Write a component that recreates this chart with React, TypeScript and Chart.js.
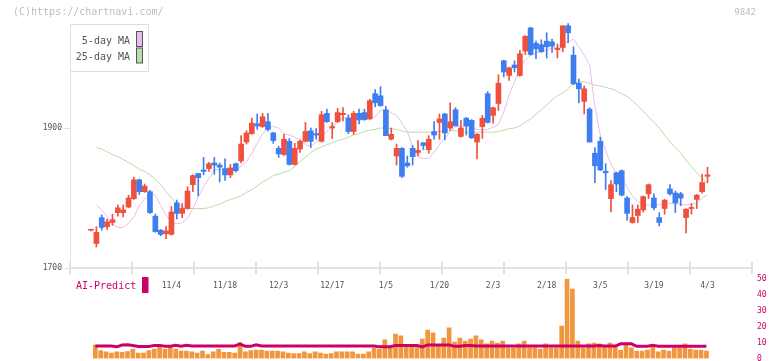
import React, { useEffect, useRef } from "react";
import { Chart, registerables } from "chart.js";

Chart.register(...registerables);

const dates = ["10/10","10/14","10/15","10/16","10/17","10/20","10/21","10/22","10/23","10/24","10/27","10/28","10/29","10/30","10/31","11/4","11/5","11/6","11/7","11/10","11/11","11/12","11/13","11/14","11/17","11/18","11/19","11/20","11/21","11/25","11/26","11/27","11/28","12/1","12/2","12/3","12/4","12/5","12/8","12/9","12/10","12/11","12/12","12/15","12/16","12/17","12/18","12/19","12/22","12/23","12/24","12/25","12/26","12/29","12/30","1/5","1/6","1/7","1/8","1/9","1/13","1/14","1/15","1/16","1/19","1/20","1/21","1/22","1/23","1/26","1/27","1/28","1/29","1/30","2/2","2/3","2/4","2/5","2/6","2/9","2/10","2/12","2/13","2/16","2/17","2/18","2/19","2/20","2/24","2/25","2/26","2/27","3/2","3/3","3/4","3/5","3/6","3/9","3/10","3/11","3/12","3/13","3/16","3/17","3/18","3/19","3/23","3/24","3/25","3/26","3/27","3/30","3/31","4/1","4/2","4/3"];

const opens = [1754,1735,1772,1759,1765,1779,1779,1787,1799,1826,1809,1809,1774,1754,1749,1748,1793,1778,1785,1819,1835,1840,1842,1850,1847,1842,1833,1849,1853,1880,1892,1906,1902,1909,1893,1871,1862,1881,1848,1870,1881,1896,1892,1881,1921,1900,1909,1919,1914,1895,1921,1922,1913,1949,1946,1926,1884,1860,1871,1850,1871,1865,1879,1869,1895,1908,1920,1900,1926,1888,1914,1911,1880,1902,1949,1918,1935,1996,1975,1990,1975,2010,2043,2021,2019,2024,2023,2012,2015,2046,2004,1964,1938,1927,1864,1881,1838,1799,1836,1839,1800,1765,1775,1783,1806,1800,1772,1785,1813,1807,1806,1772,1785,1798,1809,1831];
const highs = [1755,1759,1776,1770,1777,1790,1790,1804,1830,1827,1820,1811,1777,1755,1759,1788,1797,1792,1816,1833,1835,1858,1851,1858,1850,1856,1848,1850,1889,1896,1914,1920,1921,1921,1894,1874,1891,1885,1878,1883,1908,1900,1899,1924,1927,1908,1928,1929,1919,1924,1927,1927,1941,1955,1959,1931,1900,1877,1872,1860,1875,1882,1879,1889,1909,1920,1921,1936,1929,1911,1915,1912,1892,1918,1952,1930,1976,1997,1987,1996,2011,2032,2044,2024,2026,2036,2027,2020,2046,2049,2016,1970,1960,1929,1872,1887,1849,1825,1837,1840,1802,1790,1790,1803,1820,1806,1779,1798,1819,1810,1808,1785,1792,1805,1834,1844];
const lows = [1753,1730,1754,1755,1761,1774,1773,1786,1798,1805,1808,1778,1751,1746,1742,1747,1770,1772,1784,1809,1803,1833,1838,1834,1823,1825,1829,1837,1850,1877,1891,1898,1901,1896,1878,1858,1861,1847,1847,1865,1880,1872,1884,1880,1908,1885,1908,1910,1892,1891,1906,1911,1912,1930,1931,1889,1883,1847,1829,1844,1847,1860,1869,1864,1884,1884,1883,1897,1903,1887,1890,1885,1856,1885,1907,1907,1925,1973,1968,1980,1974,2005,2004,1999,2008,2000,2008,2000,2009,2022,1962,1936,1920,1880,1822,1839,1812,1780,1809,1803,1768,1764,1765,1780,1799,1783,1760,1777,1804,1779,1789,1750,1777,1785,1807,1822];
const closes = [1754,1751,1758,1766,1769,1786,1783,1800,1826,1809,1817,1779,1752,1748,1753,1780,1778,1785,1810,1832,1829,1838,1849,1847,1844,1833,1843,1839,1877,1893,1907,1903,1916,1898,1882,1863,1884,1848,1871,1881,1895,1881,1890,1919,1909,1902,1922,1921,1895,1921,1912,1912,1939,1936,1932,1889,1891,1871,1831,1846,1859,1868,1875,1884,1890,1913,1893,1909,1903,1900,1903,1886,1891,1914,1908,1929,1964,1980,1986,1986,2006,2031,2005,2013,2009,2016,2017,2014,2046,2036,1963,1956,1956,1880,1846,1840,1836,1819,1820,1804,1778,1772,1784,1802,1819,1786,1765,1797,1806,1793,1800,1784,1786,1804,1822,1833];

const ma5 = [null,
  1790,1783,1773,1763,1758,1758,1764,1773,1789,1798,
  1807,1804,1789,1776,1765,1763,1765,1771,1785,1802,
  1816,1828,1840,1841,1841,1841,1841,1845,1852,1864,
  1878,1892,1900,1902,1900,1892,1890,1887,1883,1876,
  1874,1880,1888,1895,1902,1909,1914,1916,1912,1911,
  1912,1914,1916,1925,1926,1922,1918,1907,1895,1873,
  1859,1856,1857,1865,1876,1885,1895,1902,1902,1903,
  1902,1898,1897,1898,1901,1905,1923,1947,1966,1985,
  1997,2004,2007,2009,2011,2014,2015,2020,2023,2027,
  2016,2004,1990,1930,1890,1868,1848,1835,1828,1815,
  1803,1795,1790,1790,1789,1791,1792,1792,1792,1791,
  1790,1791,1793,1800,1805];

const ma25 = [null,
  1872,1870,1866,1862,1859,1855,1851,1846,1841,1838,
  1833,1827,1819,1809,1800,1792,1787,1785,1785,1785,
  1785,1786,1789,1791,1795,1798,1800,1803,1808,1812,
  1817,1823,1827,1832,1834,1837,1839,1845,1852,1858,
  1865,1870,1873,1876,1879,1882,1884,1887,1890,1892,
  1895,1897,1898,1900,1900,1899,1898,1896,1894,1894,
  1894,1894,1894,1894,1895,1896,1896,1896,1895,1894,
  1894,1894,1894,1894,1894,1895,1897,1899,1900,1903,
  1908,1913,1920,1926,1933,1940,1946,1950,1956,1964,
  1966,1966,1964,1961,1960,1958,1956,1953,1949,1945,
  1939,1932,1924,1916,1908,1900,1890,1880,1872,1864,
  1854,1845,1836,1828,1820];

const volume = [null,
  8.4,4.9,4.1,3.4,4.1,3.9,4.3,5.9,3.4,3.4,
  4.9,5.9,7.0,5.9,7.0,5.9,4.7,4.7,4.1,3.4,
  4.7,2.4,4.1,5.7,3.9,3.9,3.4,9.9,4.1,4.9,
  5.3,5.3,4.7,4.7,4.7,4.1,3.4,3.0,3.0,4.1,
  3.0,4.1,3.4,2.8,3.0,4.1,4.1,4.1,4.1,2.8,
  2.8,4.1,6.3,5.9,11.6,7.0,15.3,14.1,8.4,8.0,
  8.0,12.2,17.8,16.1,8.4,12.8,19.1,10.3,12.8,10.9,
  12.2,14.1,11.6,9.1,10.9,9.7,10.9,6.5,6.6,9.1,
  10.9,6.6,6.6,5.9,9.1,6.6,6.6,20.3,49.7,43.4,
  10.9,6.6,9.1,9.7,9.1,7.8,9.7,7.8,5.3,8.8,
  6.6,4.7,4.7,5.3,7.8,4.1,5.3,4.7,6.6,6.6,
  9.1,5.9,5.3,5.3,4.7];

const aiPredict = [null,
  7.8,7.8,7.8,7.8,7.3,8.4,8.6,8.1,7.5,7.5,
  7.5,8.2,8.2,7.6,7.6,8.2,7.6,8.2,7.8,7.8,
  7.8,7.8,7.8,7.8,7.8,7.8,7.8,9.0,7.6,7.6,
  8.5,7.8,7.8,7.8,7.8,7.8,7.8,7.8,7.8,7.8,
  7.8,7.8,7.8,7.8,7.8,7.8,7.8,7.8,7.8,7.8,
  7.8,7.8,7.8,7.3,7.3,7.3,8.2,8.2,8.2,8.2,
  8.2,7.3,8.5,8.5,8.5,8.5,8.5,7.6,7.6,8.1,
  8.1,7.8,7.8,7.8,7.8,7.8,7.8,7.8,7.8,7.8,
  7.8,7.8,7.8,7.8,7.8,7.8,7.8,7.8,7.8,7.8,
  7.8,7.8,7.8,7.8,8.1,7.8,7.8,7.8,9.2,9.2,
  9.2,7.6,7.6,7.6,8.3,7.7,7.7,7.7,7.7,7.7,
  7.7,7.7,7.7,7.7,7.7];

const priceTicks = [1700, 1900];
const dateTickIndexes = [15, 25, 35, 45, 55, 65, 75, 85, 95, 105, 115];
const gridSlotCount = 11;
const volumeTicks = [0, 10, 20, 30, 40, 50];

const UP = "#f0503e";
const DOWN = "#3f7ef0";
const PINK = "#ebbbee";
const GREEN = "#b8dcaa";
const ORANGE = "#f0963c";
const MAGENTA = "#cc0066";
const GRID = "#e2e2e2";
const MONO = '"DejaVu Sans Mono", monospace';

const W = 772;
const H = 361;

function mainConfig(): any {
  const idx = dates.map((_, i) => i);
  const colors = idx.map((i) => (closes[i] >= opens[i] ? UP : DOWN));
  const decor = {
    id: "decor",
    afterDraw(chart: any) {
      const ctx = chart.ctx;
      const area = chart.chartArea;
      ctx.save();
      // separator tick marks along the bottom axis
      ctx.strokeStyle = GRID;
      ctx.lineWidth = 2;
      for (let k = 0; k <= gridSlotCount; k++) {
        const x = Math.round(area.left + (k * (area.right - area.left)) / gridSlotCount);
        ctx.beginPath();
        ctx.moveTo(x, area.bottom - 6);
        ctx.lineTo(x, area.bottom + 6);
        ctx.stroke();
      }
      ctx.font = `10px ${MONO}`;
      ctx.fillStyle = "#bdbdbd";
      ctx.textBaseline = "middle";
      ctx.textAlign = "left";
      ctx.fillText("(C)https://chartnavi.com/", 13, 12.5);
      ctx.font = `9px ${MONO}`;
      ctx.textAlign = "right";
      ctx.fillText("9842", 756, 12.5);
      // legend box
      ctx.fillStyle = "#ffffff";
      ctx.fillRect(70.5, 24.5, 78, 47);
      ctx.strokeStyle = "#dddddd";
      ctx.lineWidth = 1;
      ctx.strokeRect(70.5, 24.5, 78, 47);
      const ds = chart.data.datasets;
      const items = [
        { label: ds[2].label, color: PINK, y: 41 },
        { label: ds[3].label, color: GREEN, y: 57.5 },
      ];
      ctx.font = `10px ${MONO}`;
      ctx.textAlign = "right";
      items.forEach((it) => {
        ctx.fillStyle = "#555555";
        ctx.fillText(it.label, 130, it.y);
        ctx.fillStyle = it.color;
        ctx.fillRect(136.5, it.y - 9.5, 6, 15);
        ctx.strokeStyle = "#555555";
        ctx.strokeRect(136.5, it.y - 9.5, 6, 15);
      });
      ctx.restore();
    },
  };
  return {
    type: "bar",
    data: {
      datasets: [
        {
          type: "bar",
          label: "body",
          data: idx.map((i) => ({ x: i, y: [opens[i], closes[i]] })),
          backgroundColor: colors,
          barThickness: 5,
          minBarLength: 1,
          grouped: false,
          xAxisID: "x",
          yAxisID: "y",
          order: 1,
        },
        {
          type: "bar",
          label: "wick",
          data: idx.map((i) => ({ x: i, y: [lows[i], highs[i]] })),
          backgroundColor: colors,
          barThickness: 1,
          grouped: false,
          xAxisID: "x",
          yAxisID: "y",
          order: 2,
        },
        {
          type: "line",
          label: "5-day MA",
          data: idx.map((i) => ({ x: i, y: ma5[i] })),
          borderColor: PINK,
          borderWidth: 1,
          pointRadius: 0,
          xAxisID: "x",
          yAxisID: "y",
          order: 3,
        },
        {
          type: "line",
          label: "25-day MA",
          data: idx.map((i) => ({ x: i, y: ma25[i] })),
          borderColor: GREEN,
          borderWidth: 1,
          pointRadius: 0,
          xAxisID: "x",
          yAxisID: "y",
          order: 4,
        },
      ],
    },
    options: {
      animation: false,
      responsive: false,
      devicePixelRatio: 1,
      events: [],
      layout: { padding: { top: 23, right: 20, left: 0, bottom: 0 } },
      plugins: { legend: { display: false }, tooltip: { enabled: false } },
      scales: {
        x: {
          type: "linear",
          axis: "x",
          position: "bottom",
          min: -3.92,
          max: 123.3,
          offset: false,
          grid: { display: false, drawTicks: false, offset: false },
          border: { display: true, color: GRID, width: 2 },
          ticks: {
            autoSkip: false,
            maxRotation: 0,
            padding: 13,
            color: "#555555",
            font: { family: MONO, size: 8 },
            callback: (v: any) => dates[v] ?? "",
          },
          afterBuildTicks: (s: any) => {
            s.ticks = dateTickIndexes.map((v) => ({ value: v }));
          },
          afterFit: (s: any) => {
            s.height = 93;
          },
        },
        y: {
          type: "linear",
          axis: "y",
          position: "left",
          min: 1700,
          max: 2050,
          grid: { drawOnChartArea: false, tickLength: 6, color: GRID },
          border: { display: true, color: GRID, width: 1 },
          ticks: {
            padding: 2,
            color: "#555555",
            font: { family: MONO, size: 8 },
            callback: (v: any) => String(v),
          },
          afterBuildTicks: (s: any) => {
            s.ticks = priceTicks.map((v) => ({ value: v }));
          },
          afterFit: (s: any) => {
            s.width = 70;
          },
        },
      },
    },
    plugins: [decor],
  };
}

function volumeConfig(): any {
  const idx = dates.map((_, i) => i);
  const aiLegend = {
    id: "aiLegend",
    afterDraw(chart: any) {
      const ctx = chart.ctx;
      ctx.save();
      ctx.font = `10px ${MONO}`;
      ctx.fillStyle = MAGENTA;
      ctx.textAlign = "left";
      ctx.textBaseline = "middle";
      ctx.fillText(chart.data.datasets[0].label, 76, 286);
      ctx.fillRect(142, 277, 6.5, 16);
      ctx.restore();
    },
  };
  return {
    type: "bar",
    data: {
      datasets: [
        {
          type: "line",
          label: "AI-Predict",
          data: idx.map((i) => ({ x: i, y: aiPredict[i] })),
          borderColor: MAGENTA,
          borderWidth: 3,
          pointRadius: 0,
          xAxisID: "x",
          yAxisID: "y",
          order: 0,
        },
        {
          type: "bar",
          label: "volume",
          data: idx.map((i) => ({ x: i, y: volume[i] })),
          backgroundColor: ORANGE,
          barThickness: 4,
          grouped: false,
          xAxisID: "x",
          yAxisID: "y",
          order: 1,
        },
      ],
    },
    options: {
      animation: false,
      responsive: false,
      devicePixelRatio: 1,
      events: [],
      layout: { padding: { top: 278.5, right: 0, left: 70, bottom: 400 - 358.5 } },
      plugins: { legend: { display: false }, tooltip: { enabled: false } },
      scales: {
        x: {
          type: "linear",
          axis: "x",
          display: false,
          min: -3.72,
          max: 123.5,
          offset: false,
          grid: { offset: false },
        },
        y: {
          type: "linear",
          axis: "y",
          position: "right",
          min: 0,
          max: 50,
          grid: { display: false, drawTicks: false },
          border: { display: false },
          ticks: { padding: 5, color: MAGENTA, font: { family: MONO, size: 8 } },
          afterBuildTicks: (s: any) => {
            s.ticks = volumeTicks.map((v) => ({ value: v }));
          },
          afterFit: (s: any) => {
            s.width = 20;
          },
        },
      },
    },
    plugins: [aiLegend],
  };
}

export default function App() {
  const mainRef = useRef<HTMLCanvasElement>(null);
  const volRef = useRef<HTMLCanvasElement>(null);
  useEffect(() => {
    const c1 = new Chart(mainRef.current as HTMLCanvasElement, mainConfig());
    const c2 = new Chart(volRef.current as HTMLCanvasElement, volumeConfig());
    return () => {
      c1.destroy();
      c2.destroy();
    };
  }, []);
  return (
    <div
      style={{
        position: "fixed",
        left: 0,
        top: 0,
        width: W,
        height: H,
        overflow: "hidden",
        background: "#ffffff",
      }}
    >
      <canvas
        ref={mainRef}
        width={W}
        height={H}
        style={{ position: "absolute", left: 0, top: 0, width: W, height: H }}
      />
      <canvas
        ref={volRef}
        width={W}
        height={400}
        style={{ position: "absolute", left: 0, top: 0, width: W, height: 400 }}
      />
    </div>
  );
}
